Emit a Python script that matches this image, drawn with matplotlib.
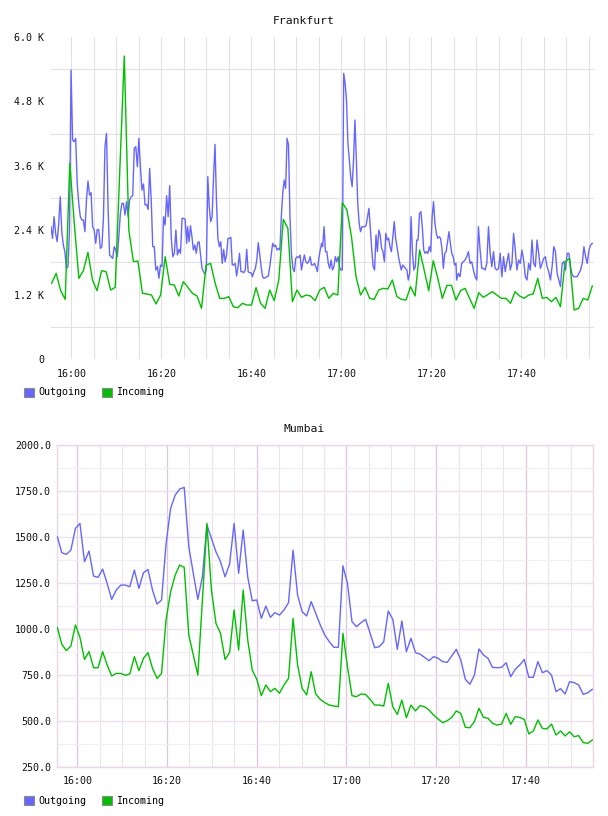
import numpy as np
import matplotlib
matplotlib.use("Agg")
import matplotlib.pyplot as plt
from matplotlib.patches import Patch

# ---------------- data ----------------
# Frankfurt: minutes relative to 16:00 ; values in bytes/s
fra_out_a = [2465, 2248, 2652, 2341, 2186, 2527, 3024, 2372, 2124, 2000,
             1689, 1720, 2403, 5384, 4080, 4049, 4111, 3273, 2900, 2652,
             2590, 2590, 2372, 2962, 3316, 3055, 3099, 2465, 2403, 2155,
             2416, 2403, 2062, 2093, 2621, 3956, 4204, 2838, 1938, 1906,
             1875, 2093, 2031, 1906, 2279, 2714, 2900, 2900, 2683, 2931,
             2652, 2962, 3024, 3043, 3925, 3956, 3583, 4111, 3583, 3148,
             3260, 2869, 2881, 2788, 3552, 2962, 2093, 2093, 1658, 1720,
             1503, 1751, 1720, 2652, 2496, 3043, 2652, 3229, 2248, 1906,
             1969, 2403, 1938, 2043, 1969, 2621, 2621, 2602, 2155]
fra_out_b = [2465, 2186, 2484, 2279, 2031, 2124, 1969, 2167, 2186, 1938,
             1689, 1627, 1584, 1658, 3397, 2838, 2559, 2652, 3397, 3999,
             2962, 2248, 2093, 2186, 1782, 2043, 1813, 1938, 2248, 2248,
             2267, 1751, 1751, 1782, 1546, 1720, 1969, 1627, 1627, 1608,
             1658, 2043, 1627, 1608, 1608, 1534, 1627, 1689, 1844, 2167,
             1956, 1720, 1534, 1503, 1515, 1534, 1546, 1720, 1938, 2155,
             2093, 2124, 2031, 2062, 2031, 2652, 3086, 3335, 3180, 4111,
             3987, 2652, 1969, 1689, 1627, 1875, 1906, 1888, 1938, 1658,
             1813, 1938, 1813, 1782, 1813, 1906, 1751, 1751, 1782, 1720,
             1627, 1875, 2031, 2155]
fra_out_c = [2093, 2465, 2000, 2000, 1782, 1689, 1844, 1658, 1720, 1906,
             1813, 1906, 1720, 1658, 1658, 5322, 5136, 4825, 4018, 3707,
             3397, 3211, 3707, 4453, 3707, 2900, 2527, 2372, 2465, 2465,
             2465, 2496, 2652, 2807, 2403, 2031, 1720, 1658, 2310, 2000,
             2403, 2310, 2062, 2000, 1813, 2341, 2217, 2248, 2093, 2000,
             2279, 2559, 2248, 2093, 1906, 1782, 1658, 1751, 1720, 1689,
             1658, 1472, 1596, 2652, 1969, 1658, 1720, 2217, 2217, 2714,
             2745, 2465, 2031, 1969, 2000, 1969, 2093, 2000, 2652, 2931,
             2527, 2341, 2248, 2279, 2248, 2062, 1689, 1969, 2000, 2186,
             2372, 2155, 1969, 1906, 1751, 1782]
fra_out_d = [1472, 1596, 1534, 1782, 1813, 1844, 1906, 2000, 1782, 1813,
             1658, 1534, 1472, 2465, 2031, 1689, 1689, 1658, 1782, 2465,
             1969, 1720, 2000, 1689, 1658, 1689, 1969, 1534, 1906, 1627,
             1813, 1969, 1658, 1782, 2341, 2031, 1658, 1844, 1782, 2031,
             1844, 1534, 1472, 1782, 1658, 2217, 1782, 1720, 2217, 1969,
             1689, 1782, 1875, 1906, 1720, 1627, 1472, 1720, 2093, 2000,
             1596, 1472, 1348, 1782, 1813, 1658, 1969, 1969, 1720, 1565,
             1534, 1534, 1534, 1596, 1658, 1782, 2093, 1906, 1782, 2031,
             2124, 2155]
fra_out_start = [-4.51, 25.85, 55.86, 85.64]   # minute of first sample of each stretch
fra_out_end = [25.64, 55.64, 85.49, 115.78]    # minute of last sample of each stretch

fra_in = [1410, 1596, 1273, 1112, 3645, 2527, 1503, 1646, 1987, 1472,
          1273, 1646, 1627, 1285, 1335, 3490, 5645, 2403, 1813, 1826,
          1223, 1211, 1192, 1025, 1192, 1906, 1391, 1379, 1174, 1441,
          1335, 1223, 1174, 944, 1751, 1782, 1410, 1130, 1130, 1161,
          975, 956, 1037, 1006, 1006, 1329, 1037, 944, 1285, 1087,
          1472, 2602, 2434, 1068, 1285, 1149, 1192, 1174, 1087, 1285,
          1335, 1130, 1223, 1192, 2912, 2776, 2279, 1534, 1192, 1335,
          1130, 1112, 1285, 1317, 1304, 1472, 1161, 1112, 1099, 1348,
          1174, 2031, 1658, 1273, 1832, 1503, 1130, 1372, 1372, 1099,
          1273, 1317, 1130, 944, 1236, 1149, 1200, 1254, 1192, 1130,
          1130, 1037, 1254, 1174, 1130, 1192, 1211, 1503, 1130, 1149,
          1068, 1149, 975, 1813, 1875, 913, 944, 1130, 1099, 1360]
fra_in_start, fra_in_end = -4.38, 115.78

# Mumbai
bom_out = [1500, 1413, 1404, 1427, 1545, 1572, 1364, 1422, 1286, 1279,
           1324, 1246, 1159, 1210, 1237, 1237, 1228, 1319, 1219, 1304,
           1322, 1210, 1134, 1156, 1464, 1654, 1726, 1759, 1768, 1446,
           1301, 1159, 1282, 1563, 1491, 1418, 1364, 1282, 1351, 1572,
           1301, 1536, 1282, 1152, 1156, 1056, 1123, 1062, 1087, 1074,
           1102, 1141, 1427, 1183, 1093,
           1069, 1147, 1084, 1020, 966, 929, 899, 899, 1342, 1246,
           1038, 1011, 1033, 1051, 975, 897, 902, 929, 1096, 1051,
           888, 1042, 875, 948, 870, 862, 844, 826, 848, 839,
           821, 817, 852, 888, 830, 725, 698, 748, 890, 857,
           839, 790, 788, 790, 815, 739, 779, 803, 833, 736,
           736, 821, 761, 772, 748, 658, 674, 645, 712, 707,
           694, 643, 652, 670]
bom_in = [1007, 915, 881, 906, 1020, 953, 833, 875, 788, 788,
          875, 803, 743, 757, 757, 747, 754, 848, 772, 839,
          870, 785, 730, 757, 1050, 1201, 1291, 1346, 1333, 966,
          857, 748, 1150, 1572, 1210, 1029, 975, 833, 870, 1102,
          884, 1210, 939, 775, 725, 636, 694, 658, 676, 649,
          694, 730, 1056, 803, 676,
          640, 766, 645, 616, 598, 585, 580, 576, 975, 794,
          636, 631, 645, 643, 616, 585, 585, 580, 703, 576,
          534, 612, 516, 585, 553, 582, 576, 558, 531, 509,
          489, 500, 518, 553, 540, 464, 462, 495, 567, 518,
          513, 486, 476, 482, 540, 480, 522, 518, 507, 428,
          444, 504, 458, 455, 482, 422, 444, 417, 440, 413,
          419, 381, 377, 395]
bom_start, bom_end = -4.46, 114.83

xtick_minutes = [0, 20, 40, 60, 80, 100]
xtick_labels = ["16:00", "16:20", "16:40", "17:00", "17:20", "17:40"]
fra_yticks = [0, 1200, 2400, 3600, 4800, 6000]
fra_yticklabels = ["0", "1.2 K", "2.4 K", "3.6 K", "4.8 K", "6.0 K"]
bom_yticks = [250, 500, 750, 1000, 1250, 1500, 1750, 2000]
bom_yticklabels = ["250.0", "500.0", "750.0", "1000.0", "1250.0", "1500.0", "1750.0", "2000.0"]
series_names = ["Outgoing", "Incoming"]

# ---------------- style ----------------
W, H = 608, 816
FONT = "DejaVu Sans Mono"
BLUE = "#6666ff"
GREEN = "#00c000"
fig = plt.figure(figsize=(W / 100, H / 100), dpi=100)


def fx(px):
    return px / W


def fy(py):
    return 1 - py / H


# ---------- Frankfurt ----------
ax1 = fig.add_axes([fx(51), fy(359), (594 - 51) / W, (359 - 37) / H])
fra_out_t = np.concatenate([np.linspace(s, e, len(v)) for s, e, v in
                            zip(fra_out_start, fra_out_end,
                                [fra_out_a, fra_out_b, fra_out_c, fra_out_d])])
fra_out = np.concatenate([fra_out_a, fra_out_b, fra_out_c, fra_out_d])
fra_in_t = np.linspace(fra_in_start, fra_in_end, len(fra_in))
ax1.plot(fra_out_t, fra_out, color=BLUE, lw=1.0, zorder=3)
ax1.plot(fra_in_t, fra_in, color=GREEN, lw=1.0, zorder=4)
ax1.set_xlim(-4.51, 116.16)
ax1.set_ylim(0, 6000)
ax1.set_xticks(xtick_minutes)
ax1.set_xticklabels(xtick_labels)
ax1.set_xticks(np.arange(-0, 116, 5), minor=True)
ax1.set_yticks(fra_yticks)
ax1.set_yticklabels(fra_yticklabels)
ax1.set_yticks(np.arange(600, 6000, 1200), minor=True)
ax1.xaxis.grid(True, which="both", color="#e2e2e2", lw=0.8)
ax1.yaxis.grid(True, which="minor", color="#e2e2e2", lw=0.8)
ax1.yaxis.grid(False, which="major")
ax1.set_axisbelow(True)
for s in ax1.spines.values():
    s.set_visible(False)
ax1.tick_params(which="both", length=0)
ax1.tick_params(axis="y", pad=5)
ax1.tick_params(axis="x", pad=7)

# ---------- Mumbai ----------
ax2 = fig.add_axes([fx(56.7), fy(766.7), (593.5 - 56.7) / W, (766.7 - 444.7) / H])
bom_t = np.linspace(bom_start, bom_end, len(bom_out))
ax2.plot(bom_t, bom_out, color=BLUE, lw=1.0, zorder=3)
ax2.plot(bom_t, bom_in, color=GREEN, lw=1.0, zorder=4)
ax2.set_xlim(-4.59, 115.1)
ax2.set_ylim(250, 2000)
ax2.set_xticks(xtick_minutes)
ax2.set_xticklabels(xtick_labels)
ax2.set_xticks(np.arange(-0, 116, 5), minor=True)
ax2.set_yticks(bom_yticks)
ax2.set_yticklabels(bom_yticklabels)
ax2.set_yticks(np.arange(375, 2000, 250), minor=True)
ax2.xaxis.grid(True, which="major", color="#dcc6dc", lw=0.9)
ax2.xaxis.grid(True, which="minor", color="#ebe4eb", lw=0.8)
ax2.yaxis.grid(True, which="major", color="#efdfef", lw=1.0)
ax2.yaxis.grid(True, which="minor", color="#f1eff1", lw=0.9)
ax2.set_axisbelow(True)
for s in ax2.spines.values():
    s.set_color("#ead8ea")
    s.set_linewidth(1.0)
ax2.tick_params(which="both", length=0)
ax2.tick_params(axis="y", pad=4)
ax2.tick_params(axis="x", pad=7)

for ax in (ax1, ax2):
    for lab in ax.get_xticklabels() + ax.get_yticklabels():
        lab.set_fontfamily(FONT)
        lab.set_fontsize(7.2)
        lab.set_color("#111111")

# titles
fig.text(0.5, fy(20.5), "Frankfurt", ha="center", va="center",
         family=FONT, fontsize=8.2, color="#111111")
fig.text(0.5, fy(428.5), "Mumbai", ha="center", va="center",
         family=FONT, fontsize=8.2, color="#111111")

# legends
for ly in (392.5, 800.5):
    handles = [Patch(facecolor=BLUE, edgecolor="#8a8a8a", lw=0.8, label=series_names[0]),
               Patch(facecolor=GREEN, edgecolor="#8a8a8a", lw=0.8, label=series_names[1])]
    fig.legend(handles=handles, loc="center left", bbox_to_anchor=(fx(24.3), fy(ly)),
               ncol=2, frameon=False, handlelength=1.0, handleheight=1.0,
               handletextpad=0.4, columnspacing=1.6, borderpad=0, borderaxespad=0,
               prop={"family": FONT, "size": 7.2})

fig.savefig("out.png", dpi=100)
